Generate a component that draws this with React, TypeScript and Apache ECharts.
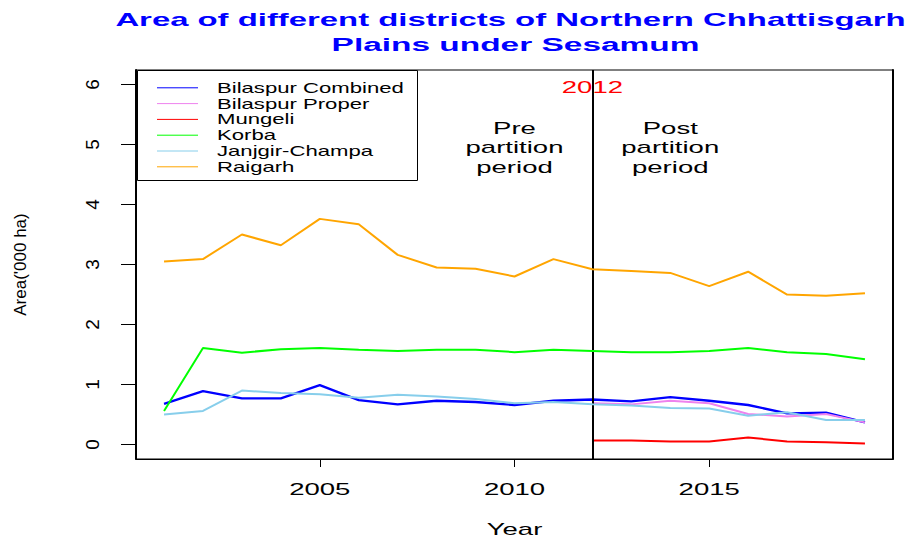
import React, { useEffect, useRef } from "react";
import * as echarts from "echarts";

// ---------- data ----------
const years = [2001, 2002, 2003, 2004, 2005, 2006, 2007, 2008, 2009, 2010, 2011, 2012, 2013, 2014, 2015, 2016, 2017, 2018, 2019];
const postYears = [2012, 2013, 2014, 2015, 2016, 2017, 2018, 2019];

const bilaspurCombined = [0.68, 0.89, 0.77, 0.77, 0.99, 0.74, 0.67, 0.73, 0.71, 0.66, 0.73, 0.75, 0.72, 0.79, 0.73, 0.66, 0.52, 0.53, 0.37];
const bilaspurProper = [0.69, 0.67, 0.73, 0.69, 0.51, 0.47, 0.51, 0.37];
const mungeli = [0.07, 0.07, 0.05, 0.05, 0.12, 0.05, 0.04, 0.02];
const korba = [0.56, 1.61, 1.53, 1.59, 1.61, 1.58, 1.56, 1.58, 1.58, 1.54, 1.58, 1.56, 1.54, 1.54, 1.56, 1.61, 1.54, 1.51, 1.42];
const janjgirChampa = [0.50, 0.56, 0.90, 0.86, 0.84, 0.78, 0.83, 0.80, 0.76, 0.69, 0.71, 0.67, 0.65, 0.61, 0.60, 0.48, 0.54, 0.41, 0.41];
const raigarh = [3.05, 3.09, 3.50, 3.32, 3.76, 3.67, 3.16, 2.95, 2.93, 2.80, 3.09, 2.92, 2.89, 2.86, 2.64, 2.88, 2.50, 2.48, 2.52];

const seriesNames = ["Bilaspur Combined", "Bilaspur Proper", "Mungeli", "Korba", "Janjgir-Champa", "Raigarh"];
const seriesColors = ["#0000FF", "#EE82EE", "#FF0000", "#00FF00", "#87CEEB", "#FFA500"];
const seriesYears = [years, postYears, postYears, years, years, years];
const seriesValues = [bilaspurCombined, bilaspurProper, mungeli, korba, janjgirChampa, raigarh];

const xTicks = [2005, 2010, 2015];
const yTicks = [0, 1, 2, 3, 4, 5, 6];
const xRange = [2001, 2019];
const yRange = [0, 6];

const partitionYear = 2012;
const titleLines = ["Area of different districts of Northern Chhattisgarh", "Plains under Sesamum"];
const xTitle = "Year";
const yTitle = "Area('000 ha)";
const annotations = [
  { text: "2012", x: 2012, y: 5.95, color: "#FF0000" },
  { text: "Pre\npartition\nperiod", x: 2010, y: 4.95, color: "#000000" },
  { text: "Post\npartition\nperiod", x: 2014, y: 4.95, color: "#000000" },
];

const FONT = "'Liberation Sans', Arial, Helvetica, sans-serif";

export default function App() {
  const ref = useRef<HTMLDivElement>(null);

  useEffect(() => {
    const chart = echarts.init(ref.current!, null, { renderer: "svg" });

    // R-style 4% axis extension
    const xPad = (xRange[1] - xRange[0]) * 0.04;
    const yPad = (yRange[1] - yRange[0]) * 0.04;
    const xMin = xRange[0] - xPad;
    const xMax = xRange[1] + xPad;
    const yMin = yRange[0] - yPad;
    const yMax = yRange[1] + yPad;

    const series: any[] = seriesNames.map((name, i) => ({
      name,
      type: "line",
      data: seriesYears[i].map((yr, j) => [yr, seriesValues[i][j]]),
      showSymbol: false,
      symbol: "none",
      lineStyle: { color: seriesColors[i], width: i === 0 ? 2.4 : 2 },
      itemStyle: { color: seriesColors[i] },
      z: 2 + i,
    }));
    series[0].markLine = {
      silent: true,
      symbol: "none",
      label: { show: false },
      lineStyle: { color: "#000", width: 2, type: "solid" },
      data: [{ xAxis: partitionYear }],
    };

    chart.setOption({
      animation: false,
      backgroundColor: "#ffffff",
      grid: { left: 136, right: 22, top: 70, bottom: 80, show: true, borderColor: "#000", borderWidth: 1, backgroundColor: "transparent" },
      xAxis: {
        type: "value",
        min: xMin,
        max: xMax,
        axisLine: { show: true, onZero: false, lineStyle: { color: "#000", width: 1 } },
        axisTick: { show: true, customValues: xTicks, length: 8, lineStyle: { color: "#000", width: 1 } },
        axisLabel: { show: false },
        splitLine: { show: false },
      },
      yAxis: [
        {
          type: "value",
          position: "left",
          min: yMin,
          max: yMax,
          axisLine: { show: true, onZero: false, lineStyle: { color: "#000", width: 2 } },
          axisTick: { show: true, customValues: yTicks, length: 15, lineStyle: { color: "#000", width: 1 } },
          axisLabel: { show: true, customValues: yTicks, rotate: 90, margin: 34, fontSize: 19, color: "#000", fontFamily: FONT },
          splitLine: { show: false },
          name: yTitle,
          nameLocation: "middle",
          nameGap: 107,
          nameRotate: 90,
          nameTextStyle: { fontSize: 17, color: "#000", fontFamily: FONT },
        },
        {
          type: "value",
          position: "right",
          min: yMin,
          max: yMax,
          axisLine: { show: true, onZero: false, lineStyle: { color: "#000", width: 2 } },
          axisTick: { show: false },
          axisLabel: { show: false },
          splitLine: { show: false },
        },
      ],
      series,
    });

    const px = (x: number, y: number) => chart.convertToPixel({ seriesIndex: 0 }, [x, y]) as number[];
    const bottomLeft = px(xMin, yMin);
    const topRight = px(xMax, yMax);
    const plotCx = (bottomLeft[0] + topRight[0]) / 2;
    const plotBottom = bottomLeft[1];
    const plotLeft = bottomLeft[0];
    const plotTop = topRight[1];

    const hText = (x: number, y: number, text: string, o: any = {}) => ({
      type: "text",
      x,
      y,
      scaleX: o.scaleX ?? 1.62,
      silent: true,
      z: 100,
      style: {
        text,
        fill: o.color ?? "#000",
        fontSize: o.fontSize ?? 17,
        fontWeight: o.fontWeight ?? "normal",
        fontFamily: FONT,
        align: o.align ?? "center",
        verticalAlign: "middle",
        lineHeight: o.lineHeight ?? 19.5,
      },
    });

    const graphics: any[] = [];
    // title
    graphics.push(hText(plotCx - 4, 20, titleLines[0], { color: "#0000FF", fontSize: 19, fontWeight: "bold", scaleX: 1.73, lineHeight: 24 }));
    graphics.push(hText(plotCx + 1, 44.3, titleLines[1], { color: "#0000FF", fontSize: 19, fontWeight: "bold", scaleX: 1.76, lineHeight: 24 }));
    // x tick labels
    xTicks.forEach((v) => {
      graphics.push(hText(px(v, 0)[0], plotBottom + 30, String(v)));
    });
    // x title
    graphics.push(hText(plotCx, plotBottom + 70.5, xTitle));
    // annotations
    annotations.forEach((a) => {
      const p = px(a.x, a.y);
      graphics.push(hText(p[0], p[1], a.text, { color: a.color }));
    });
    // legend
    const lgX = plotLeft + 1;
    const lgY = plotTop + 1;
    graphics.push({
      type: "rect",
      silent: true,
      z: 90,
      shape: { x: lgX + 0.5, y: lgY - 0.5, width: 280, height: 110 },
      style: { fill: "#fff", stroke: "#000", lineWidth: 1 },
    });
    seriesNames.forEach((name, i) => {
      const yy = lgY + 16.8 + i * 15.8;
      graphics.push({
        type: "line",
        silent: true,
        z: 95,
        shape: { x1: lgX + 20, y1: yy, x2: lgX + 61, y2: yy },
        style: { stroke: seriesColors[i], lineWidth: 1 },
      });
      graphics.push(hText(lgX + 80, yy, name, { fontSize: 14, align: "left", scaleX: 1.58 }));
    });

    chart.setOption({ graphic: graphics });

    return () => chart.dispose();
  }, []);

  return (
    <div
      ref={ref}
      style={{ position: "fixed", left: 0, top: 0, width: 915, height: 539, background: "#fff" }}
    />
  );
}
